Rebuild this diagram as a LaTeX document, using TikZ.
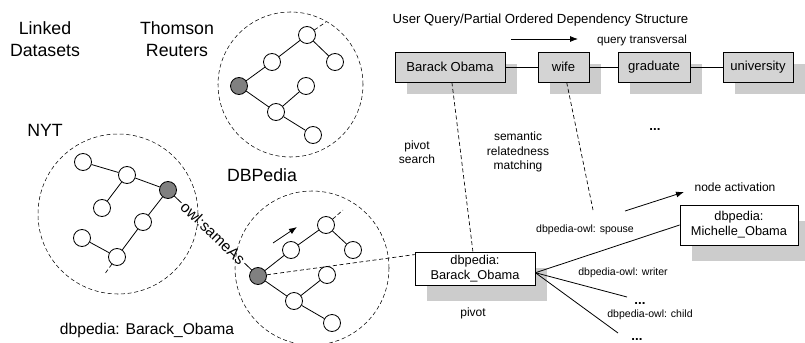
\documentclass[tikz,border=0pt]{standalone}
\usepackage{fontspec}
\setmainfont{Liberation Sans}
\usetikzlibrary{arrows.meta,shadows}
\definecolor{boxgray}{RGB}{212,212,212}
\definecolor{shadowgray}{RGB}{204,204,204}
\definecolor{nodegray}{RGB}{128,128,128}
\newcommand{\fs}[2]{\fontsize{#1}{#2}\selectfont}
\tikzset{
  vtx/.style={circle, draw, fill=white, minimum size=12.75pt, inner sep=0pt, line width=0.6pt},
  gvtx/.style={vtx, fill=nodegray},
  cloud/.style={circle, draw, densely dashed, line width=0.4pt, inner sep=0pt},
  edg/.style={line width=0.6pt},
  stub/.style={line width=0.5pt, densely dashed},
  conn/.style={line width=0.5pt, densely dashed},
  arr/.style={line width=0.6pt, -{Latex[length=6pt,width=4.5pt]}},
  bigtxt/.style={font=\fs{13.3}{16.5}, align=center, inner sep=0pt},
  qbox/.style={draw, line width=0.6pt, fill=boxgray, minimum height=22.5pt, inner sep=0pt,
    font=\fs{9.8}{11.5}, general shadow={fill=shadowgray, shadow xshift=9pt, shadow yshift=-9pt}},
  dbox/.style={draw, line width=0.6pt, fill=white, inner sep=0pt, align=center,
    font=\fs{9.6}{11.25}, general shadow={fill=shadowgray, shadow xshift=9pt, shadow yshift=-12pt}},
  smalltxt/.style={font=\fs{9}{10.8}, align=center, inner sep=0pt},
  reltxt/.style={font=\fs{7.9}{9.5}, inner sep=0pt},
  dots/.style={font=\bfseries\fs{10}{12}, inner sep=0pt, anchor=base}
}
\begin{document}
\begin{tikzpicture}[x=0.75pt, y=-0.75pt]
\useasboundingbox (0,0) rectangle (805,342);

% labels
\node[bigtxt] (lds) at (45,39) {Linked\\Datasets};
\node[bigtxt] (ltr) at (177,39) {Thomson\\Reuters};
\node[bigtxt] (lnyt) at (45,130) {NYT};
\node[bigtxt] (ldbp) at (262,175) {DBPedia};
\node[font=\fs{11.7}{14}, inner sep=0pt] (ldbo) at (147,330) {dbpedia: Barack\_Obama};

% big dashed clouds
\node[cloud, minimum size=108.75pt] (ctop) at (290.5,84.5) {};
\node[cloud, minimum size=120pt] (cnyt) at (118,214) {};
\node[cloud, minimum size=115.5pt] (cbot) at (312,268) {};

% top DBPedia graph
\node[gvtx] (tg) at (239,86) {};
\node[vtx] (ta) at (272,62) {};
\node[vtx] (tb) at (307,35) {};
\node[vtx] (tc) at (335,62) {};
\node[vtx] (td) at (276,112) {};
\node[vtx] (te) at (306,86) {};
\node[vtx] (tf) at (313,135) {};
\coordinate (tx) at (326,22);
\draw[edg] (tg) -- (ta); \draw[edg] (ta) -- (tb); \draw[edg] (tb) -- (tc);
\draw[edg] (tg) -- (td); \draw[edg] (td) -- (te); \draw[edg] (td) -- (tf);
\draw[stub] (tb) -- (tx);

% NYT graph
\node[vtx] (na) at (83,162) {};
\node[vtx] (nb) at (127,175) {};
\node[gvtx] (ng) at (168,190) {};
\node[vtx] (nc) at (102,208) {};
\node[vtx] (nd) at (143,222) {};
\node[vtx] (ne) at (82,238) {};
\node[vtx] (nf) at (117,257) {};
\coordinate (nx) at (104,275);
\draw[edg] (na) -- (nb); \draw[edg] (nb) -- (ng); \draw[edg] (nb) -- (nc);
\draw[edg] (ng) -- (nd); \draw[edg] (nd) -- (nf); \draw[edg] (ne) -- (nf);
\draw[stub] (nf) -- (nx);

% bottom DBPedia graph
\node[gvtx] (bg) at (258,276) {};
\node[vtx] (ba) at (291,250) {};
\node[vtx] (bb) at (326,225) {};
\node[vtx] (bc) at (353,250) {};
\node[vtx] (bd) at (327,275) {};
\node[vtx] (be) at (294,301) {};
\node[vtx] (bf) at (332,323) {};
\coordinate (bx) at (343,210);
\draw[edg] (bg) -- (ba); \draw[edg] (ba) -- (bb); \draw[edg] (bb) -- (bc);
\draw[edg] (bg) -- (be); \draw[edg] (be) -- (bd); \draw[edg] (be) -- (bf);
\draw[stub] (bb) -- (bx);
\coordinate (ba1) at (273,243);
\coordinate (ba2) at (297,227);
\draw[arr] (ba1) -- (ba2);

% owl:sameAs
\path (ng) -- node[sloped, font=\fs{11.5}{13}, inner sep=1.5pt] (same) {owl:sameAs} (bg);
\draw[edg] (ng) -- (same.west);
\draw[edg] (same.east) -- (bg);

% query structure
\node[font=\fs{9.9}{12}, inner sep=0pt] (title) at (540.5,20) {User Query/Partial Ordered Dependency Structure};
\coordinate (qa1) at (511,39);
\coordinate (qa2) at (578,39);
\draw[arr] (qa1) -- (qa2);
\node[font=\fs{8.8}{10}, inner sep=0pt] (qt) at (642,40) {query transversal};

\node[qbox, minimum width=82.5pt] (q1) at (450,67) {Barack Obama};
\node[qbox, minimum width=38.25pt] (q2) at (563.5,67) {wife};
\node[qbox, minimum width=54pt] (q3) at (654,67) {graduate};
\node[qbox, minimum width=52.5pt] (q4) at (758,67) {university};
\draw[edg] (q1) -- (q2); \draw[edg] (q2) -- (q3); \draw[edg] (q3) -- (q4);
\node[dots] (qdots) at (655,131) {...};

\node[smalltxt] (ps) at (417,152) {pivot\\search};
\node[smalltxt] (srm) at (518,152) {semantic\\relatedness\\matching};

% pivot box
\node[dbox, minimum width=90pt, minimum height=24.75pt] (db) at (475,268.5) {dbpedia:\\Barack\_Obama};
\node[smalltxt] (piv) at (473,313) {pivot};
\draw[conn] (q1) -- (db);
\coordinate (wend) at (593,210);
\draw[conn] (q2) -- (wend);
\draw[conn] (bg) -- (db.167);

% Michelle box
\node[dbox, minimum width=88.5pt, minimum height=30pt] (mo) at (739,225) {dbpedia:\\Michelle\_Obama};
\node[smalltxt] (na1) at (735,187) {node activation};
\coordinate (na2) at (625,211);
\coordinate (na3) at (684,192);
\draw[arr] (na2) -- (na3);

% relations
\coordinate (w1) at (627,297);
\coordinate (w2) at (618,333);
\draw[edg] (db.356) -- (mo.west);
\draw[edg] (db.356) -- (w1);
\draw[edg] (db.356) -- (w2);
\node[reltxt] (rsp) at (585,230) {dbpedia-owl: spouse};
\node[reltxt] (rwr) at (623,273) {dbpedia-owl: writer};
\node[reltxt] (rch) at (650,315) {dbpedia-owl: child};
\node[dots] (d1) at (640,304) {...};
\node[dots] (d2) at (637,340) {...};
\end{tikzpicture}
\end{document}
